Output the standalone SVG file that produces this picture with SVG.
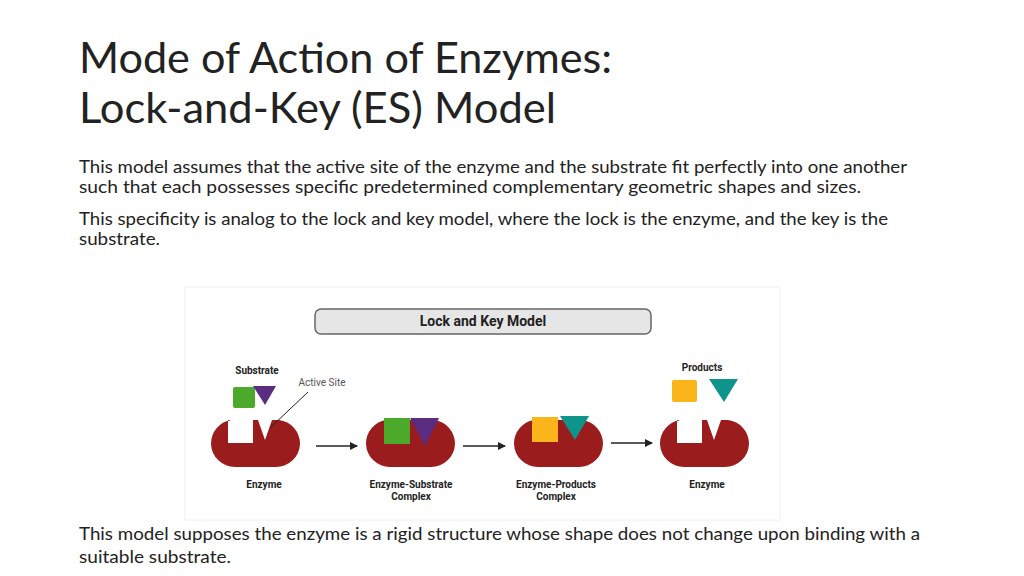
<svg xmlns="http://www.w3.org/2000/svg" width="1024" height="576" viewBox="0 0 1024 576">
<defs>
<marker id="ah" markerWidth="8" markerHeight="8" refX="7" refY="4" orient="auto" markerUnits="userSpaceOnUse"><path d="M0,0 L8,4 L0,8 z" fill="#222"/></marker>
<path id="enz" d="M20,0 L17,0 L17,23 L42,23 L42,0 L47,0 L54,20 L61,0 L68,0 A24,24 0 0 1 89,24 A24,24 0 0 1 65,47 L24,47 A24,24 0 0 1 0,24 A24,24 0 0 1 20,0 z" fill="#9b1c1c"/>
<path id="full" d="M20,0 L68,0 A24,24 0 0 1 89,24 A24,24 0 0 1 65,47 L24,47 A24,24 0 0 1 0,24 A24,24 0 0 1 20,0 z" fill="#9b1c1c"/>
</defs>
<style>
.t{font-family:Lato,"Open Sans",sans-serif;fill:#222}
.h{font-size:43px}
.b{font-size:18px}
.l{font-family:Roboto,"Liberation Sans",sans-serif;font-size:10px;font-weight:bold;fill:#222;text-anchor:middle}
.conn line{stroke:#222;stroke-width:1.5;marker-end:url(#ah)}
</style>
<rect width="1024" height="576" fill="#fff"/>
<text class="t h" x="79" y="73" textLength="533" lengthAdjust="spacingAndGlyphs">Mode of Action of Enzymes:</text>
<text class="t h" x="79" y="123" textLength="477" lengthAdjust="spacingAndGlyphs">Lock-and-Key (ES) Model</text>
<text class="t b" x="79" y="173" textLength="828" lengthAdjust="spacingAndGlyphs">This model assumes that the active site of the enzyme and the substrate fit perfectly into one another</text>
<text class="t b" x="79" y="193" textLength="782" lengthAdjust="spacingAndGlyphs">such that each possesses specific predetermined complementary geometric shapes and sizes.</text>
<text class="t b" x="79" y="225" textLength="809" lengthAdjust="spacingAndGlyphs">This specificity is analog to the lock and key model, where the lock is the enzyme, and the key is the</text>
<text class="t b" x="79" y="245" textLength="81" lengthAdjust="spacingAndGlyphs">substrate.</text>
<rect x="185" y="287" width="595" height="233" fill="#fff" stroke="#f0f0f0"/>
<g id="title"><rect x="315" y="309" width="336" height="25" rx="6" fill="#e6e6e6" stroke="#666" stroke-width="1.5"/>
<text class="l" x="483" y="326" style="font-size:14px">Lock and Key Model</text></g>
<g id="enzyme1"><use href="#enz" x="211" y="420"/><text class="l" x="264" y="488">Enzyme</text></g>
<g id="substrate"><rect x="233" y="387" width="22" height="21" rx="2" fill="#4caa2a"/><path d="M253,386 L276,386 L265,405 z" fill="#5a2d82"/>
<text class="l" x="257" y="374">Substrate</text></g>
<g id="activesite"><text class="l" x="322" y="386" style="font-weight:normal;fill:#555">Active Site</text><line x1="308" y1="392" x2="270" y2="428" stroke="#222" stroke-width="1"/></g>
<g id="es"><use href="#full" x="366" y="420"/><rect x="384" y="418" width="26" height="26" fill="#4caa2a"/><path d="M410,418 L439,418 L425,446 z" fill="#5a2d82"/>
<text class="l" x="411" y="488">Enzyme-Substrate</text><text class="l" x="411" y="500">Complex</text></g>
<g id="ep"><use href="#full" x="514" y="420"/><rect x="532" y="417" width="26" height="25" fill="#fbb41a"/><path d="M560,416 L589,416 L575,440 z" fill="#0e948a"/>
<text class="l" x="556" y="488">Enzyme-Products</text><text class="l" x="556" y="500">Complex</text></g>
<g id="enzyme2"><use href="#enz" x="660" y="420"/><text class="l" x="707" y="488">Enzyme</text></g>
<g id="products"><rect x="672" y="380" width="25" height="22" rx="2" fill="#fbb41a"/><path d="M709,379 L738,379 L724,402 z" fill="#0e948a"/>
<text class="l" x="702" y="371">Products</text></g>
<g class="conn"><line x1="316" y1="446" x2="357" y2="446"/><line x1="463" y1="446" x2="505" y2="446"/><line x1="611" y1="443" x2="652" y2="443"/></g>
<text class="t b" x="79" y="540" textLength="841" lengthAdjust="spacingAndGlyphs">This model supposes the enzyme is a rigid structure whose shape does not change upon binding with a</text>
<text class="t b" x="79" y="563" textLength="152" lengthAdjust="spacingAndGlyphs">suitable substrate.</text>
</svg>
